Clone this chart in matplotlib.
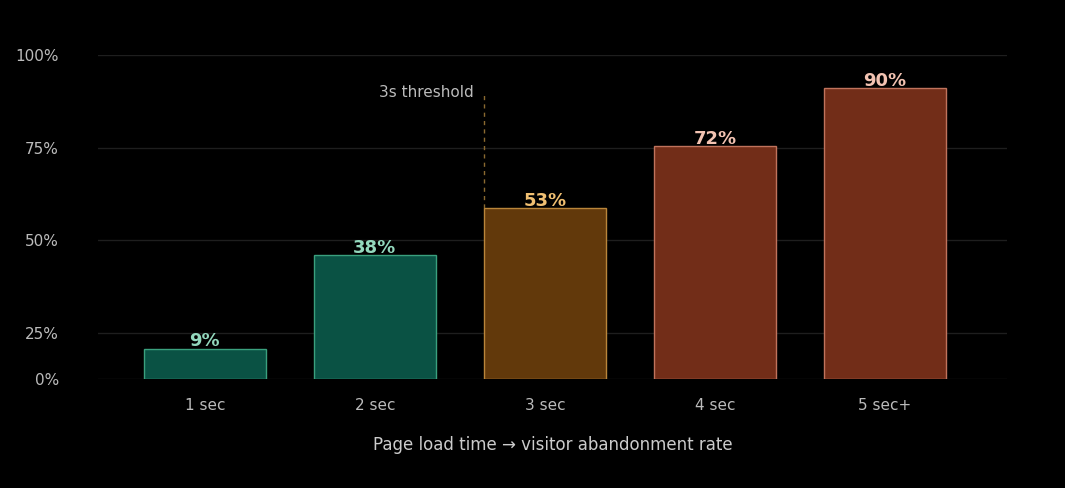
import numpy as np
import matplotlib.pyplot as plt
from matplotlib.scale import FuncScale

categories = ['1 sec', '2 sec', '3 sec', '4 sec', '5 sec+']
bar_heights = [16.3, 46, 58.7, 75.5, 91]   # bar tops as drawn on the chart's axis
bar_labels = ['9%', '38%', '53%', '72%', '90%']
yticks = [0, 25, 50, 75, 100]
ytick_labels = ['0%', '25%', '50%', '75%', '100%']

fills = ['#0a5244', '#0a5244', '#62390b', '#722d18', '#722d18']
edges = ['#3aa07e', '#3aa07e', '#b9853a', '#c0735c', '#c0735c']
text_cols = ['#93d8bd', '#93d8bd', '#f1c072', '#f3c3b2', '#f3c3b2']


def fwd(y):
    y = np.asarray(y, dtype=float)
    return np.where(y <= 25, y * 0.5, 12.5 + (y - 25))


def inv(v):
    v = np.asarray(v, dtype=float)
    return np.where(v <= 12.5, v * 2, v - 12.5 + 25)


fig = plt.figure(figsize=(10.65, 4.88), dpi=100, facecolor='black')
ax = fig.add_axes([0.092, 0.2234, 0.8535, 0.6636], facecolor='black')
ax.set_yscale(FuncScale(ax, (fwd, inv)))
ax.set_ylim(0, 100)
ax.set_xlim(-0.629, 4.718)

x = np.arange(len(categories))
ax.bar(x, bar_heights, width=0.72, color=fills, edgecolor=edges, linewidth=1, zorder=3)
for xi, h, lab, c in zip(x, bar_heights, bar_labels, text_cols):
    ax.text(xi, h - 0.5, lab, ha='center', va='bottom', color=c,
            fontsize=13, fontweight='bold', zorder=4)

# threshold marker at left edge of the 3 sec bar
ax.plot([1.64, 1.64], [bar_heights[2], 90], color='#8a6a30', linestyle=(0, (3, 3)),
        linewidth=1, zorder=2)
ax.text(1.58, 90, '3s threshold', ha='right', va='center', color='#bbbbbb', fontsize=11)

ax.set_yticks(yticks)
ax.set_yticklabels(ytick_labels)
ax.yaxis.set_minor_locator(plt.NullLocator())
ax.set_xticks(x)
ax.set_xticklabels(categories)
ax.tick_params(colors='#bbbbbb', labelsize=11, length=0)
ax.tick_params(axis='x', pad=14)
ax.tick_params(axis='y', pad=28)
for lbl in ax.get_yticklabels():
    lbl.set_horizontalalignment('right')
ax.grid(axis='y', color='#1e1e1e', linewidth=1, zorder=0)
for s in ax.spines.values():
    s.set_visible(False)

ax.set_xlabel('Page load time → visitor abandonment rate', color='#cccccc',
              fontsize=12, labelpad=16)

fig.savefig('out.png', facecolor='black')
